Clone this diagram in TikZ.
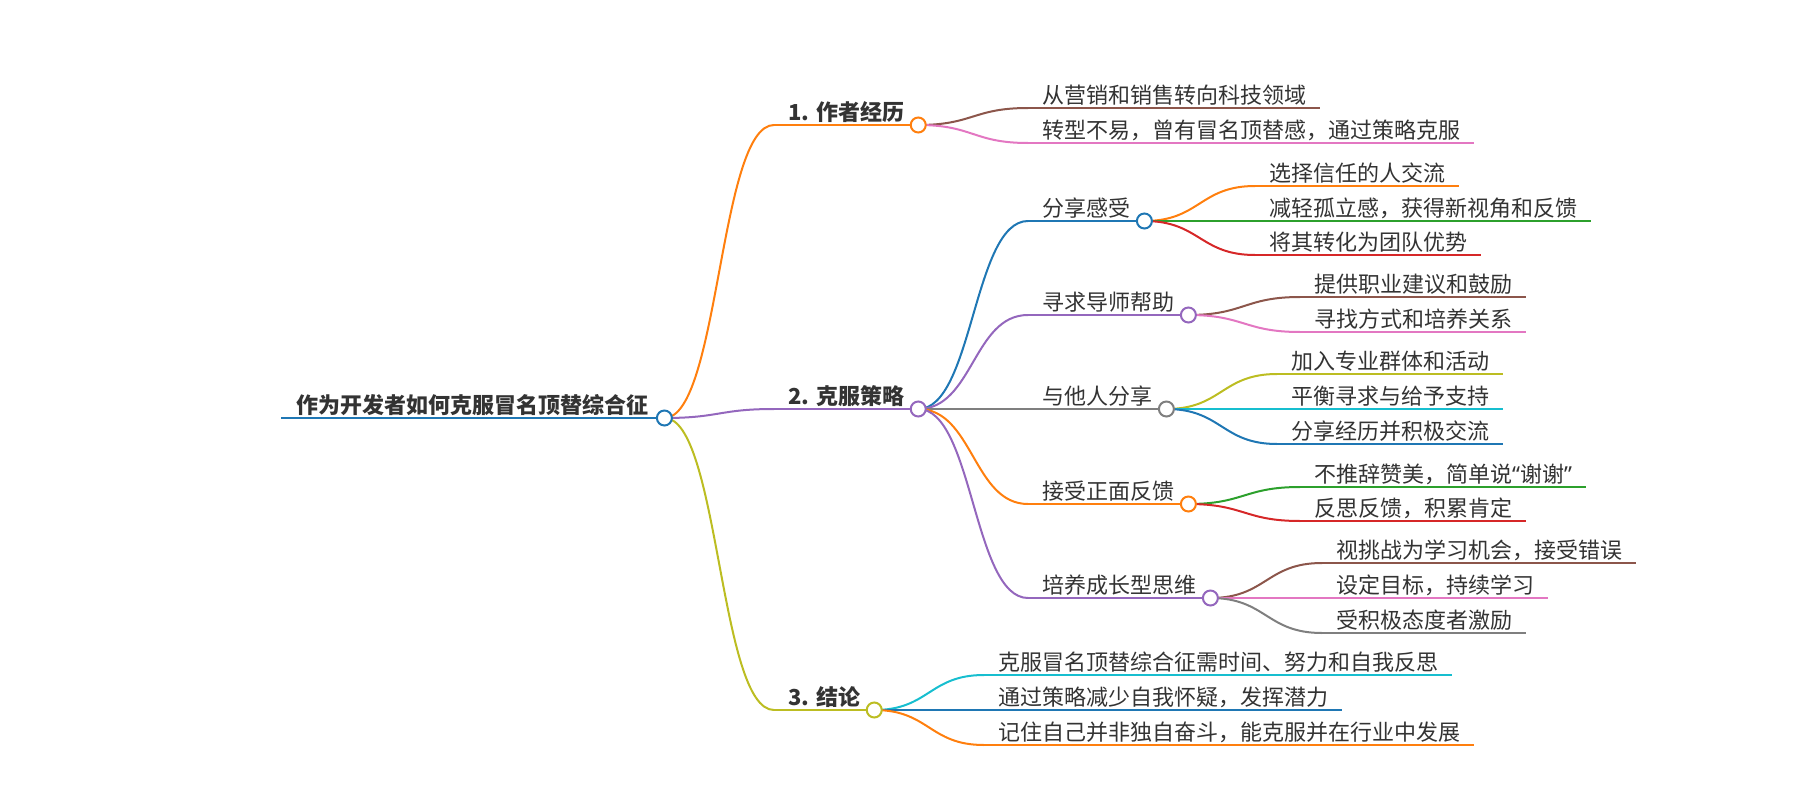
\documentclass[tikz,border=0pt]{standalone}
\usepackage{fontspec}
\setmainfont{Noto Sans CJK SC}
\newfontfamily\latinq{Noto Sans}
\usetikzlibrary{calc}
\pgfdeclarelayer{bg}
\pgfsetlayers{bg,main}
\definecolor{cBlue}{HTML}{1F77B4}
\definecolor{cOrange}{HTML}{FF7F0E}
\definecolor{cGreen}{HTML}{2CA02C}
\definecolor{cRed}{HTML}{D62728}
\definecolor{cPurple}{HTML}{9467BD}
\definecolor{cBrown}{HTML}{8C564B}
\definecolor{cPink}{HTML}{E377C2}
\definecolor{cGray}{HTML}{7F7F7F}
\definecolor{cOlive}{HTML}{BCBD22}
\definecolor{cCyan}{HTML}{17BECF}
\definecolor{txtcol}{HTML}{333333}
\tikzset{
  lt/.style={font=\fontsize{22}{26}\selectfont, text=txtcol, inner xsep=14pt, inner ysep=0pt, anchor=base west},
  bt/.style={lt, font=\fontsize{22}{26}\selectfont\bfseries},
  dot/.style={circle, fill=white, line width=2pt, minimum size=15pt, inner sep=0pt},
  link/.style={line width=2pt},
}
\newcommand\mmlink[3]{\draw[link,#1] let \p1=(#2), \p2=(#3) in (\p1) .. controls ({0.5*\x1+0.5*\x2},\y1) and ({0.5*\x1+0.5*\x2},\y2) .. (\p2);}
\newcommand\mmtopic[5]{\coordinate (s#1) at (#2,#3); \node[#4] (t#1) at ([yshift=4.5pt]s#1) {#5};}
\begin{document}
\begin{tikzpicture}[x=1pt,y=-1pt]
\useasboundingbox (0,0) rectangle (1800,800);
% root
\mmtopic{R}{281}{418}{bt,inner xsep=15.5pt}{作为开发者如何克服冒名顶替综合征}
% level 1
\mmtopic{1}{774}{125}{bt}{1. 作者经历}
\mmtopic{2}{774}{409}{bt}{2. 克服策略}
\mmtopic{3}{774}{710}{bt}{3. 结论}
% leaves of 1
\mmtopic{11}{1028}{108}{lt}{从营销和销售转向科技领域}
\mmtopic{12}{1028}{143}{lt}{转型不易，曾有冒名顶替感，通过策略克服}
% children of 2
\mmtopic{21}{1028}{221}{lt}{分享感受}
\mmtopic{22}{1028}{315}{lt}{寻求导师帮助}
\mmtopic{23}{1028}{409}{lt}{与他人分享}
\mmtopic{24}{1028}{504}{lt}{接受正面反馈}
\mmtopic{25}{1028}{598}{lt}{培养成长型思维}
% leaves of 21
\mmtopic{211}{1255}{186}{lt}{选择信任的人交流}
\mmtopic{212}{1255}{221}{lt}{减轻孤立感，获得新视角和反馈}
\mmtopic{213}{1255}{255}{lt}{将其转化为团队优势}
% leaves of 22
\mmtopic{221}{1300}{297}{lt}{提供职业建议和鼓励}
\mmtopic{222}{1300}{332}{lt}{寻找方式和培养关系}
% leaves of 23
\mmtopic{231}{1277}{374}{lt}{加入专业群体和活动}
\mmtopic{232}{1277}{409}{lt}{平衡寻求与给予支持}
\mmtopic{233}{1277}{444}{lt}{分享经历并积极交流}
% leaves of 24
\mmtopic{241}{1300}{487}{lt}{不推辞赞美，简单说{\latinq “}谢谢{\latinq ”}}
\mmtopic{242}{1300}{521}{lt}{反思反馈，积累肯定}
% leaves of 25
\mmtopic{251}{1322}{563}{lt}{视挑战为学习机会，接受错误}
\mmtopic{252}{1322}{598}{lt}{设定目标，持续学习}
\mmtopic{253}{1322}{633}{lt}{受积极态度者激励}
% leaves of 3
\mmtopic{31}{984}{675}{lt}{克服冒名顶替综合征需时间、努力和自我反思}
\mmtopic{32}{984}{710}{lt}{通过策略减少自我怀疑，发挥潜力}
\mmtopic{33}{984}{745}{lt}{记住自己并非独自奋斗，能克服并在行业中发展}
% circles
\node[dot,draw=cBlue] (cR) at (tR.east |- sR) {};
\node[dot,draw=cOrange] (c1) at (t1.east |- s1) {};
\node[dot,draw=cPurple] (c2) at (t2.east |- s2) {};
\node[dot,draw=cOlive] (c3) at (t3.east |- s3) {};
\node[dot,draw=cBlue] (c21) at (t21.east |- s21) {};
\node[dot,draw=cPurple] (c22) at (t22.east |- s22) {};
\node[dot,draw=cGray] (c23) at (t23.east |- s23) {};
\node[dot,draw=cOrange] (c24) at (t24.east |- s24) {};
\node[dot,draw=cPurple] (c25) at (t25.east |- s25) {};
\begin{pgfonlayer}{bg}
% underlines of inner topics
\draw[link,cBlue,line width=2.5pt] (sR) -- (cR);
\draw[link,cOrange] (s1) -- (c1);
\draw[link,cPurple] (s2) -- (c2);
\draw[link,cOlive] (s3) -- (c3);
\draw[link,cBlue] (s21) -- (c21);
\draw[link,cPurple] (s22) -- (c22);
\draw[link,cGray] (s23) -- (c23);
\draw[link,cOrange] (s24) -- (c24);
\draw[link,cPurple] (s25) -- (c25);
% underlines of leaves
\draw[link,cBrown] (s11) -- (t11.east |- s11);
\draw[link,cPink] (s12) -- (t12.east |- s12);
\draw[link,cOrange] (s211) -- (t211.east |- s211);
\draw[link,cGreen] (s212) -- (t212.east |- s212);
\draw[link,cRed] (s213) -- (t213.east |- s213);
\draw[link,cBrown] (s221) -- (t221.east |- s221);
\draw[link,cPink] (s222) -- (t222.east |- s222);
\draw[link,cOlive] (s231) -- (t231.east |- s231);
\draw[link,cCyan] (s232) -- (t232.east |- s232);
\draw[link,cBlue] (s233) -- (t233.east |- s233);
\draw[link,cGreen] (s241) -- (t241.east |- s241);
\draw[link,cRed] (s242) -- (t242.east |- s242);
\draw[link,cBrown] (s251) -- (t251.east |- s251);
\draw[link,cPink] (s252) -- (t252.east |- s252);
\draw[link,cGray] (s253) -- (t253.east |- s253);
\draw[link,cCyan] (s31) -- (t31.east |- s31);
\draw[link,cBlue] (s32) -- (t32.east |- s32);
\draw[link,cOrange] (s33) -- (t33.east |- s33);
% curved connectors
\mmlink{cOrange}{cR}{s1}
\mmlink{cPurple}{cR}{s2}
\mmlink{cOlive}{cR}{s3}
\mmlink{cBrown}{c1}{s11}
\mmlink{cPink}{c1}{s12}
\mmlink{cBlue}{c2}{s21}
\mmlink{cPurple}{c2}{s22}
\mmlink{cGray}{c2}{s23}
\mmlink{cOrange}{c2}{s24}
\mmlink{cPurple}{c2}{s25}
\mmlink{cOrange}{c21}{s211}
\mmlink{cGreen}{c21}{s212}
\mmlink{cRed}{c21}{s213}
\mmlink{cBrown}{c22}{s221}
\mmlink{cPink}{c22}{s222}
\mmlink{cOlive}{c23}{s231}
\mmlink{cCyan}{c23}{s232}
\mmlink{cBlue}{c23}{s233}
\mmlink{cGreen}{c24}{s241}
\mmlink{cRed}{c24}{s242}
\mmlink{cBrown}{c25}{s251}
\mmlink{cPink}{c25}{s252}
\mmlink{cGray}{c25}{s253}
\mmlink{cCyan}{c3}{s31}
\mmlink{cBlue}{c3}{s32}
\mmlink{cOrange}{c3}{s33}
\end{pgfonlayer}
\end{tikzpicture}
\end{document}
